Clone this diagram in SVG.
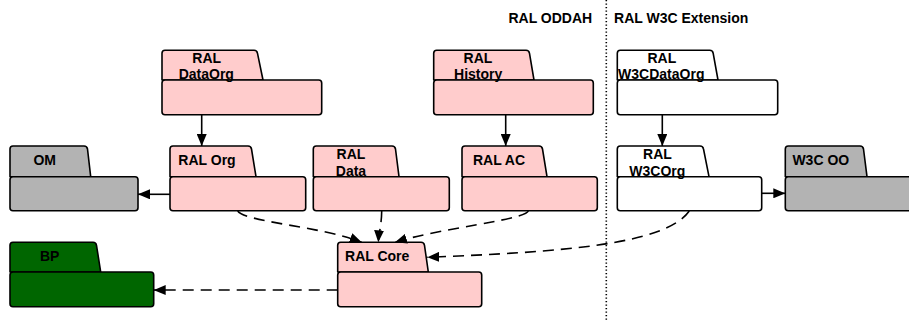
<svg xmlns="http://www.w3.org/2000/svg" width="909" height="322" viewBox="0 0 909 322">
  <style>
    .shape { stroke: #000; stroke-width: 1.6; stroke-linejoin: round; }
    .pink { fill: #ffcccc; }
    .grey { fill: #b3b3b3; }
    .green { fill: #006600; }
    .white { fill: #ffffff; }
    text { font-family: "Liberation Sans", Arial, sans-serif; font-size: 14px; font-weight: bold; fill: #000; text-anchor: middle; }
    .link { fill: none; stroke: #000; stroke-width: 1.6; }
    .dash { stroke-dasharray: 11 7; }
    .divider { stroke: #000; stroke-width: 1.6; stroke-dasharray: 1.3 2.2; }
  </style>
  <defs>
    <marker id="arrow" viewBox="0 0 12 10" refX="12" refY="5" markerWidth="12" markerHeight="10" markerUnits="userSpaceOnUse" orient="auto">
      <path d="M0,0 L12,5 L0,10 z" fill="#000"/>
    </marker>
  </defs>

  <!-- section divider and headings -->
  <line class="divider" x1="606.3" y1="0" x2="606.3" y2="322"/>
  <text x="550.3" y="23">RAL ODDAH</text>
  <text x="681.2" y="23">RAL W3C Extension</text>

  <!-- package nodes: tab + body -->
  <g id="ral-dataorg">
    <path class="shape pink" d="M162,80 L162,53.3 Q162,50.3 165,50.3 L254,50.3 Q257,50.3 257.5,53.3 L263,80 Z"/>
    <rect class="shape pink" x="162" y="80" width="159.7" height="34.7" rx="3"/>
    <text x="206.7" y="62.5">RAL</text>
    <text x="206.3" y="79">DataOrg</text>
  </g>

  <g id="ral-history">
    <path class="shape pink" d="M433.7,80 L433.7,53.3 Q433.7,50.3 436.7,50.3 L526,50.3 Q529,50.3 529.5,53.3 L534,80 Z"/>
    <rect class="shape pink" x="433.7" y="80" width="159.6" height="34.7" rx="3"/>
    <text x="478" y="62.5">RAL</text>
    <text x="478.2" y="79">History</text>
  </g>

  <g id="ral-w3cdataorg">
    <path class="shape white" d="M617.3,80 L617.3,53.3 Q617.3,50.3 620.3,50.3 L709.7,50.3 Q712.7,50.3 713.2,53.3 L718,80 Z"/>
    <rect class="shape white" x="617.3" y="80" width="160.4" height="34.7" rx="3"/>
    <text x="661.8" y="62.5">RAL</text>
    <text x="661.3" y="79">W3CDataOrg</text>
  </g>

  <g id="om">
    <path class="shape grey" d="M10,176.7 L10,149 Q10,146 13,146 L84,146 Q87,146 87.5,149 L90.7,176.7 Z"/>
    <rect class="shape grey" x="10" y="176.7" width="128" height="34" rx="3"/>
    <text x="44.7" y="165">OM</text>
  </g>

  <g id="ral-org">
    <path class="shape pink" d="M170,176.7 L170,149 Q170,146 173,146 L248,146 Q251,146 251.5,149 L256,176.7 Z"/>
    <rect class="shape pink" x="170" y="176.7" width="135.7" height="34" rx="3"/>
    <text x="207" y="165">RAL Org</text>
  </g>

  <g id="ral-data">
    <path class="shape pink" d="M313.3,176.7 L313.3,149 Q313.3,146 316.3,146 L392,146 Q395,146 395.5,149 L399,176.7 Z"/>
    <rect class="shape pink" x="313.3" y="176.7" width="136" height="34" rx="3"/>
    <text x="351" y="158.5">RAL</text>
    <text x="351" y="175.5">Data</text>
  </g>

  <g id="ral-ac">
    <path class="shape pink" d="M462,176.7 L462,149 Q462,146 465,146 L539,146 Q542,146 542.5,149 L547,176.7 Z"/>
    <rect class="shape pink" x="462" y="176.7" width="135.3" height="34" rx="3"/>
    <text x="499" y="165">RAL AC</text>
  </g>

  <g id="ral-w3corg">
    <path class="shape white" d="M617.3,176.7 L617.3,149 Q617.3,146 620.3,146 L700,146 Q703,146 703.5,149 L709,176.7 Z"/>
    <rect class="shape white" x="617.3" y="176.7" width="144.4" height="34" rx="3"/>
    <text x="657.5" y="158.5">RAL</text>
    <text x="657.3" y="175.5">W3COrg</text>
  </g>

  <g id="w3c-oo">
    <path class="shape grey" d="M785.3,176.7 L785.3,149 Q785.3,146 788.3,146 L860,146 Q863,146 863.5,149 L867,176.7 Z"/>
    <rect class="shape grey" x="785.3" y="176.7" width="130" height="34" rx="3"/>
    <text x="820.8" y="165">W3C OO</text>
  </g>

  <g id="bp">
    <path class="shape green" d="M10,272 L10,245.3 Q10,242.3 13,242.3 L93,242.3 Q96,242.3 96.5,245.3 L100.7,272 Z"/>
    <rect class="shape green" x="10" y="272" width="143.7" height="34.7" rx="3"/>
    <text x="49.7" y="260.7">BP</text>
  </g>

  <g id="ral-core">
    <path class="shape pink" d="M337.7,272 L337.7,245.3 Q337.7,242.3 340.7,242.3 L421,242.3 Q424,242.3 424.5,245.3 L428.3,272 Z"/>
    <rect class="shape pink" x="337.7" y="272" width="144" height="34.7" rx="3"/>
    <text x="377.2" y="260.7">RAL Core</text>
  </g>

  <!-- connectors -->
  <g id="connectors">
    <path class="link" marker-end="url(#arrow)" d="M201.7,114.7 L201.7,146"/>
    <path class="link" marker-end="url(#arrow)" d="M505.7,114.7 L505.7,146"/>
    <path class="link" marker-end="url(#arrow)" d="M662.3,114.7 L662.3,146"/>
    <path class="link" marker-end="url(#arrow)" d="M170,194.3 L138,194.3"/>
    <path class="link" marker-end="url(#arrow)" d="M761.7,193.3 L785.3,193.3"/>
    <path class="link dash" marker-end="url(#arrow)" d="M237.7,211 C245,222 320,226 361.7,242.3"/>
    <path class="link dash" marker-end="url(#arrow)" d="M381.7,211 C381.5,225 379,232 378.3,242.3"/>
    <path class="link dash" marker-end="url(#arrow)" d="M528.3,211 C525,220 440,228 395,242.3"/>
    <path class="link dash" marker-end="url(#arrow)" d="M689.3,211 C665,245 560,252 427.3,257.3"/>
    <path class="link dash" marker-end="url(#arrow)" d="M337.7,290 L153.7,290"/>
  </g>
</svg>
